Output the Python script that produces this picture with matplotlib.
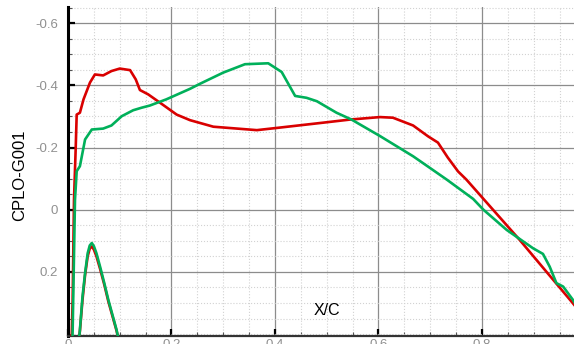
import numpy as np
import matplotlib
matplotlib.use('Agg')
from matplotlib import pyplot as plt
from matplotlib.ticker import MultipleLocator

# upper curve (red)
red_x = [0.007, 0.009, 0.0116, 0.0148, 0.0168, 0.023, 0.030, 0.0425, 0.052, 0.068, 0.084,
         0.100, 0.120, 0.131, 0.139, 0.155, 0.178, 0.210, 0.236, 0.281, 0.365, 0.403, 0.493,
         0.545, 0.603, 0.628, 0.667, 0.696, 0.715, 0.734, 0.754, 0.770, 0.873, 0.976, 0.99]
red_y = [0.42, 0.29, -0.032, -0.194, -0.306, -0.312, -0.355, -0.409, -0.435, -0.432, -0.446,
         -0.454, -0.449, -0.419, -0.385, -0.371, -0.344, -0.306, -0.288, -0.267, -0.256, -0.263, -0.280,
         -0.290, -0.298, -0.296, -0.271, -0.236, -0.216, -0.168, -0.123, -0.097, 0.097, 0.301, 0.33]

# lower lobe of the red curve
red_lobe_x = [0.021, 0.023, 0.028, 0.033, 0.038, 0.042, 0.046, 0.050, 0.055, 0.062, 0.070, 0.078, 0.094, 0.098]
red_lobe_y = [0.42, 0.39, 0.29, 0.21, 0.15, 0.125, 0.118, 0.128, 0.150, 0.19, 0.24, 0.295, 0.39, 0.42]

# green curve
green_x = [0.0085, 0.009, 0.0135, 0.0168, 0.023, 0.033, 0.046, 0.068, 0.084, 0.104, 0.126,
           0.142, 0.158, 0.190, 0.236, 0.255, 0.300, 0.342, 0.387, 0.413, 0.439, 0.461, 0.481,
           0.519, 0.548, 0.603, 0.667, 0.700, 0.732, 0.783, 0.803, 0.848, 0.899, 0.918, 0.931,
           0.944, 0.957, 0.976, 0.99]
green_y = [0.42, 0.387, -0.032, -0.124, -0.140, -0.226, -0.258, -0.261, -0.271, -0.301, -0.320,
           -0.328, -0.335, -0.355, -0.389, -0.405, -0.441, -0.468, -0.471, -0.443, -0.366, -0.360, -0.349,
           -0.312, -0.290, -0.237, -0.172, -0.134, -0.097, -0.035, 0.0, 0.065, 0.124, 0.142, 0.183,
           0.236, 0.247, 0.29, 0.33]

green_lobe_x = [0.021, 0.023, 0.028, 0.033, 0.038, 0.042, 0.046, 0.050, 0.055, 0.062, 0.070, 0.078, 0.094, 0.098]
green_lobe_y = [0.42, 0.387, 0.28, 0.204, 0.14, 0.115, 0.107, 0.117, 0.140, 0.183, 0.235, 0.29, 0.387, 0.42]

xticks = [0, 0.2, 0.4, 0.6, 0.8]
xtick_labels = ['0', '0.2', '0.4', '0.6', '0.8']
yticks = [-0.6, -0.4, -0.2, 0, 0.2]
ytick_labels = ['-0.6', '-0.4', '-0.2', '0', '0.2']

plt.rcParams['font.family'] = ['Liberation Sans', 'DejaVu Sans']

fig = plt.figure(figsize=(5.74, 3.44), dpi=100, facecolor='w')
ax = fig.add_axes([68 / 574, 8 / 344, 506 / 574, 329 / 344])

red = '#d90000'
green = '#00b05a'
ax.plot(red_x, red_y, color=red, lw=1.9, zorder=3, solid_joinstyle='round')
ax.plot(red_lobe_x, red_lobe_y, color=red, lw=1.9, zorder=3, solid_joinstyle='round')
ax.plot(green_x, green_y, color=green, lw=1.9, zorder=4, solid_joinstyle='round')
ax.plot(green_lobe_x, green_lobe_y, color=green, lw=1.9, zorder=4, solid_joinstyle='round')

ax.set_xlim(0, 0.978)
ax.set_ylim(0.406, -0.652)

ax.set_xticks(xticks)
ax.set_xticklabels(xtick_labels)
ax.set_yticks(yticks)
ax.set_yticklabels(ytick_labels)
ax.xaxis.set_minor_locator(MultipleLocator(0.05))
ax.yaxis.set_minor_locator(MultipleLocator(0.05))

ax.grid(which='major', color='#8c8c8c', lw=0.9, ls='-', zorder=1)
ax.grid(which='minor', color='#d2d2d2', lw=0.8, ls=':', zorder=0)

ax.tick_params(which='major', direction='in', length=5, width=1.6, color='black',
               labelsize=9.5, labelcolor='#909090')
ax.tick_params(which='minor', direction='in', length=3, width=0.8, color='#555555')
ax.tick_params(axis='y', which='major', pad=7)
ax.tick_params(axis='x', which='major', pad=2)

for side in ['top', 'right']:
    ax.spines[side].set_visible(False)
ax.spines['left'].set_linewidth(2.2)
ax.spines['left'].set_color('black')
ax.spines['bottom'].set_linewidth(1.6)
ax.spines['bottom'].set_color('#333333')

ax.text(0.5, 0.323, 'X/C', ha='center', va='center', fontsize=11.5, color='black')
fig.text(20 / 574, 0.49, 'CPLO-G001', rotation=90, ha='center', va='center',
         fontsize=12, color='black')

fig.savefig('out.png', dpi=100, facecolor='w')
